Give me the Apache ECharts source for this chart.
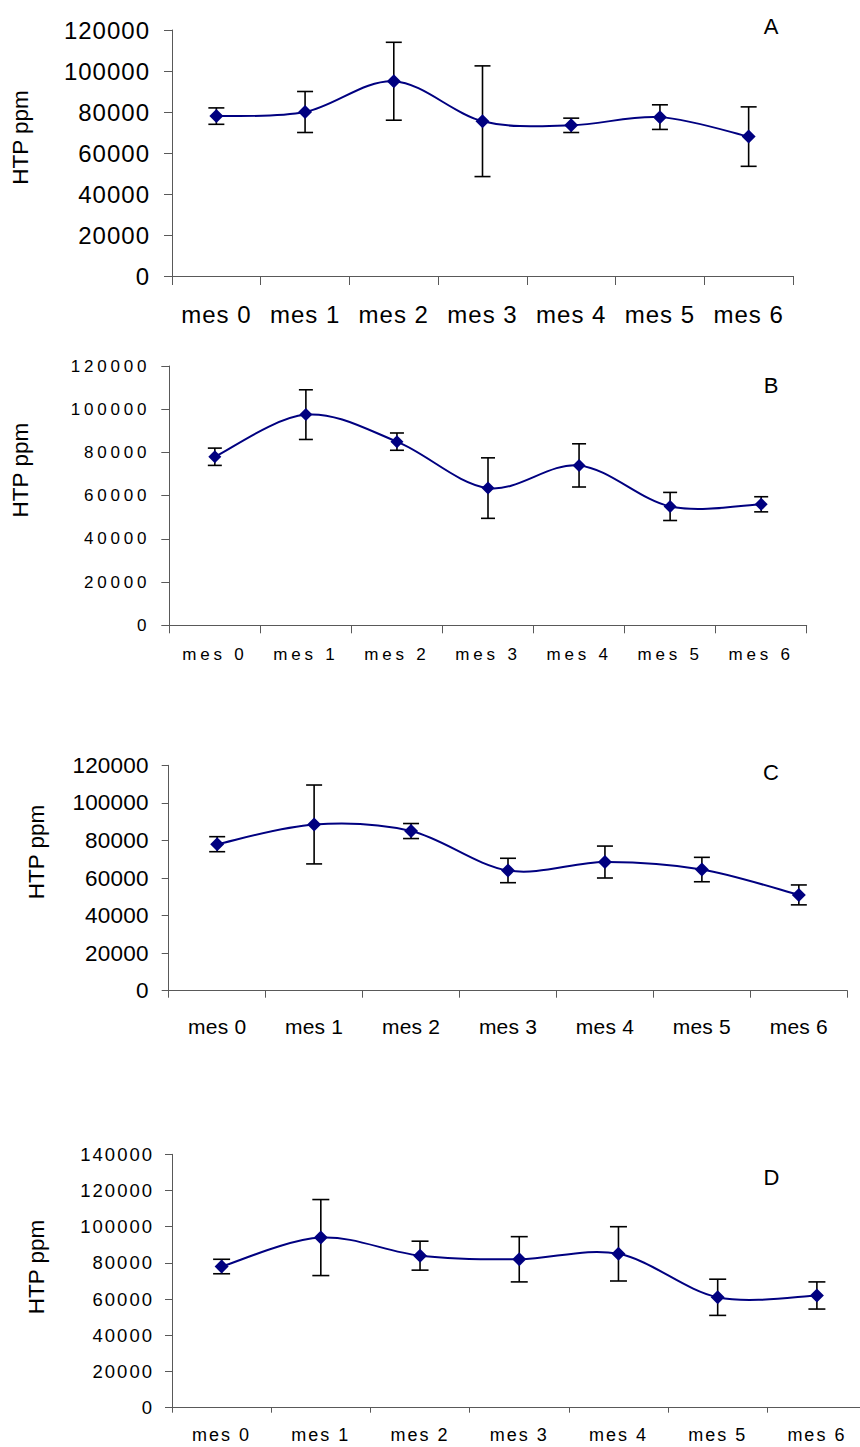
<!DOCTYPE html>
<html>
<head>
<meta charset="utf-8">
<script src="https://cdn.jsdelivr.net/npm/echarts@6/dist/echarts.min.js"></script>
<style>
  html, body { margin: 0; padding: 0; background: #fff; }
  body { width: 860px; height: 1447px; position: relative; overflow: hidden; }
  .panel { position: absolute; left: 0; width: 860px; }
  /* tick labels use the Arial stack; each panel has its own tracking */
  #pA text[style*="Arial"] { letter-spacing: 1px; }
  #pB text[style*="Arial"] { letter-spacing: 3.8px; }
  #pC text[style*="Arial"] { letter-spacing: 0.2px; }
  #pD text[style*="Arial"] { letter-spacing: 2px; }
</style>
</head>
<body>
<div id="pA" class="panel" style="top:0;height:340px"></div>
<div id="pB" class="panel" style="top:340px;height:370px"></div>
<div id="pC" class="panel" style="top:710px;height:390px"></div>
<div id="pD" class="panel" style="top:1100px;height:347px"></div>
<script>
// Sampling months
const months = ['mes 0', 'mes 1', 'mes 2', 'mes 3', 'mes 4', 'mes 5', 'mes 6'];

// HTP (ppm): means and error half-widths per treatment
const meanA = [78000, 80000, 95000, 75500, 73500, 77500, 68000];
const errA  = [4000, 10000, 19000, 27000, 3500, 6000, 14500];

const meanB = [78000, 97500, 85000, 63500, 74000, 55000, 56000];
const errB  = [4000, 11500, 4000, 14000, 10000, 6500, 3500];

const meanC = [78000, 88500, 85000, 64000, 68500, 64500, 51000];
const errC  = [4000, 21000, 4000, 6500, 8500, 6500, 5300];

const meanD = [78000, 94000, 84000, 82000, 85000, 61000, 62000];
const errD  = [4000, 21000, 8000, 12500, 15000, 10000, 7500];

// y-axis ranges
const yMaxABC = 120000;
const yMaxD = 140000;
const yStep = 20000;

const yName = 'HTP ppm';
const TICK_FONT = 'Arial, Liberation Sans';
const NAME_FONT = 'Liberation Sans';
const NAVY = '#000080';
const AXIS_GRAY = '#595959';

// vertical error bar with caps, one per month
function errorBars(capHalf) {
  return function (params, api) {
    const i = api.value(0);
    const hi = api.coord([i, api.value(1)]);
    const lo = api.coord([i, api.value(2)]);
    const style = { stroke: '#000', lineWidth: 1.6 };
    return {
      type: 'group',
      children: [
        { type: 'line', shape: { x1: hi[0], y1: hi[1], x2: lo[0], y2: lo[1] }, style: style },
        { type: 'line', shape: { x1: hi[0] - capHalf, y1: hi[1], x2: hi[0] + capHalf, y2: hi[1] }, style: style },
        { type: 'line', shape: { x1: lo[0] - capHalf, y1: lo[1], x2: lo[0] + capHalf, y2: lo[1] }, style: style }
      ]
    };
  };
}

// Catmull-Rom style smoothed segment from month i to month i+1
function smoothSegments(mean) {
  const n = mean.length;
  return function (params, api) {
    const i = params.dataIndex;
    if (i >= n - 1) return { type: 'group', children: [] };
    const pt = function (j) {
      const k = Math.max(0, Math.min(n - 1, j));
      return api.coord([k, mean[k]]);
    };
    const p0 = pt(i - 1), p1 = pt(i), p2 = pt(i + 1), p3 = pt(i + 2);
    return {
      type: 'bezierCurve',
      shape: {
        x1: p1[0], y1: p1[1], x2: p2[0], y2: p2[1],
        cpx1: p1[0] + (p2[0] - p0[0]) / 6, cpy1: p1[1] + (p2[1] - p0[1]) / 6,
        cpx2: p2[0] - (p3[0] - p1[0]) / 6, cpy2: p2[1] - (p3[1] - p1[1]) / 6
      },
      style: { stroke: NAVY, lineWidth: 2, fill: 'none' }
    };
  };
}

function drawPanel(id, mean, err, yMax, letter, L) {
  const chart = echarts.init(document.getElementById(id), null, { renderer: 'svg' });
  const bars = months.map(function (m, i) { return [i, mean[i] + err[i], mean[i] - err[i]]; });
  const pts = months.map(function (m, i) { return [i, mean[i]]; });
  chart.setOption({
    animation: false,
    backgroundColor: '#fff',
    grid: {
      left: L.left, top: L.top, width: L.width, height: L.height,
      containLabel: false, outerBoundsMode: 'none'
    },
    xAxis: {
      type: 'category',
      data: months,
      boundaryGap: true,
      axisLine: { lineStyle: { color: AXIS_GRAY, width: 1 } },
      axisTick: { show: true, length: L.xTick, lineStyle: { color: AXIS_GRAY } },
      axisLabel: {
        interval: 0, color: '#000', fontSize: L.xFont, fontFamily: TICK_FONT, margin: L.xMargin
      },
      splitLine: { show: false }
    },
    yAxis: {
      type: 'value',
      min: 0, max: yMax, interval: yStep,
      axisLine: { show: true, lineStyle: { color: AXIS_GRAY, width: 1 } },
      axisTick: { show: true, length: L.yTick, lineStyle: { color: AXIS_GRAY } },
      axisLabel: {
        color: '#000', fontSize: L.yFont, fontFamily: TICK_FONT, margin: L.yMargin,
        formatter: function (v) { return String(v); }
      },
      splitLine: { show: false },
      name: yName,
      nameLocation: 'middle',
      nameRotate: 90,
      nameGap: L.nameGap,
      nameTextStyle: {
        color: '#000', fontSize: 22.5, fontFamily: NAME_FONT,
        padding: [0, 0, 0, L.namePad]
      }
    },
    graphic: [{
      type: 'text',
      x: L.letterX, y: L.letterY,
      style: {
        text: letter, fill: '#000', fontSize: 22, fontFamily: NAME_FONT,
        textAlign: 'center', textVerticalAlign: 'middle'
      }
    }],
    series: [
      {
        type: 'custom',
        renderItem: errorBars(L.cap),
        data: bars,
        encode: { x: 0, y: [1, 2] },
        z: 1,
        silent: true
      },
      {
        type: 'custom',
        renderItem: smoothSegments(mean),
        data: pts,
        encode: { x: 0, y: 1 },
        z: 2,
        silent: true
      },
      {
        type: 'scatter',
        data: mean,
        symbol: 'diamond',
        symbolSize: L.symbol,
        itemStyle: { color: NAVY, borderWidth: 0, opacity: 1 },
        z: 3
      }
    ]
  });
}

drawPanel('pA', meanA, errA, yMaxABC, 'A', {
  left: 172, top: 30, width: 621, height: 246,
  xFont: 24, yFont: 24, xMargin: 26, yMargin: 22, xTick: 9, yTick: 8,
  nameGap: 140, namePad: 31, letterX: 771, letterY: 26.5, cap: 8, symbol: 14
});
drawPanel('pB', meanB, errB, yMaxABC, 'B', {
  left: 169.3, top: 26, width: 637.4, height: 259.3,
  xFont: 17, yFont: 17, xMargin: 21, yMargin: 19, xTick: 8, yTick: 8,
  nameGap: 137, namePad: 51, letterX: 771, letterY: 45, cap: 7, symbol: 13
});
drawPanel('pC', meanC, errC, yMaxABC, 'C', {
  left: 168.7, top: 55.3, width: 678.6, height: 225.4,
  xFont: 21, yFont: 22.5, xMargin: 25, yMargin: 20, xTick: 7, yTick: 7,
  nameGap: 120.5, namePad: 52, letterX: 771, letterY: 62, cap: 8, symbol: 14
});
drawPanel('pD', meanD, errD, yMaxD, 'D', {
  left: 172, top: 54.3, width: 694.5, height: 253.4,
  xFont: 18, yFont: 18.5, xMargin: 18, yMargin: 18, xTick: 5, yTick: 7,
  nameGap: 124, namePad: 28, letterX: 771.5, letterY: 77.5, cap: 8.5, symbol: 14
});
</script>
</body>
</html>
